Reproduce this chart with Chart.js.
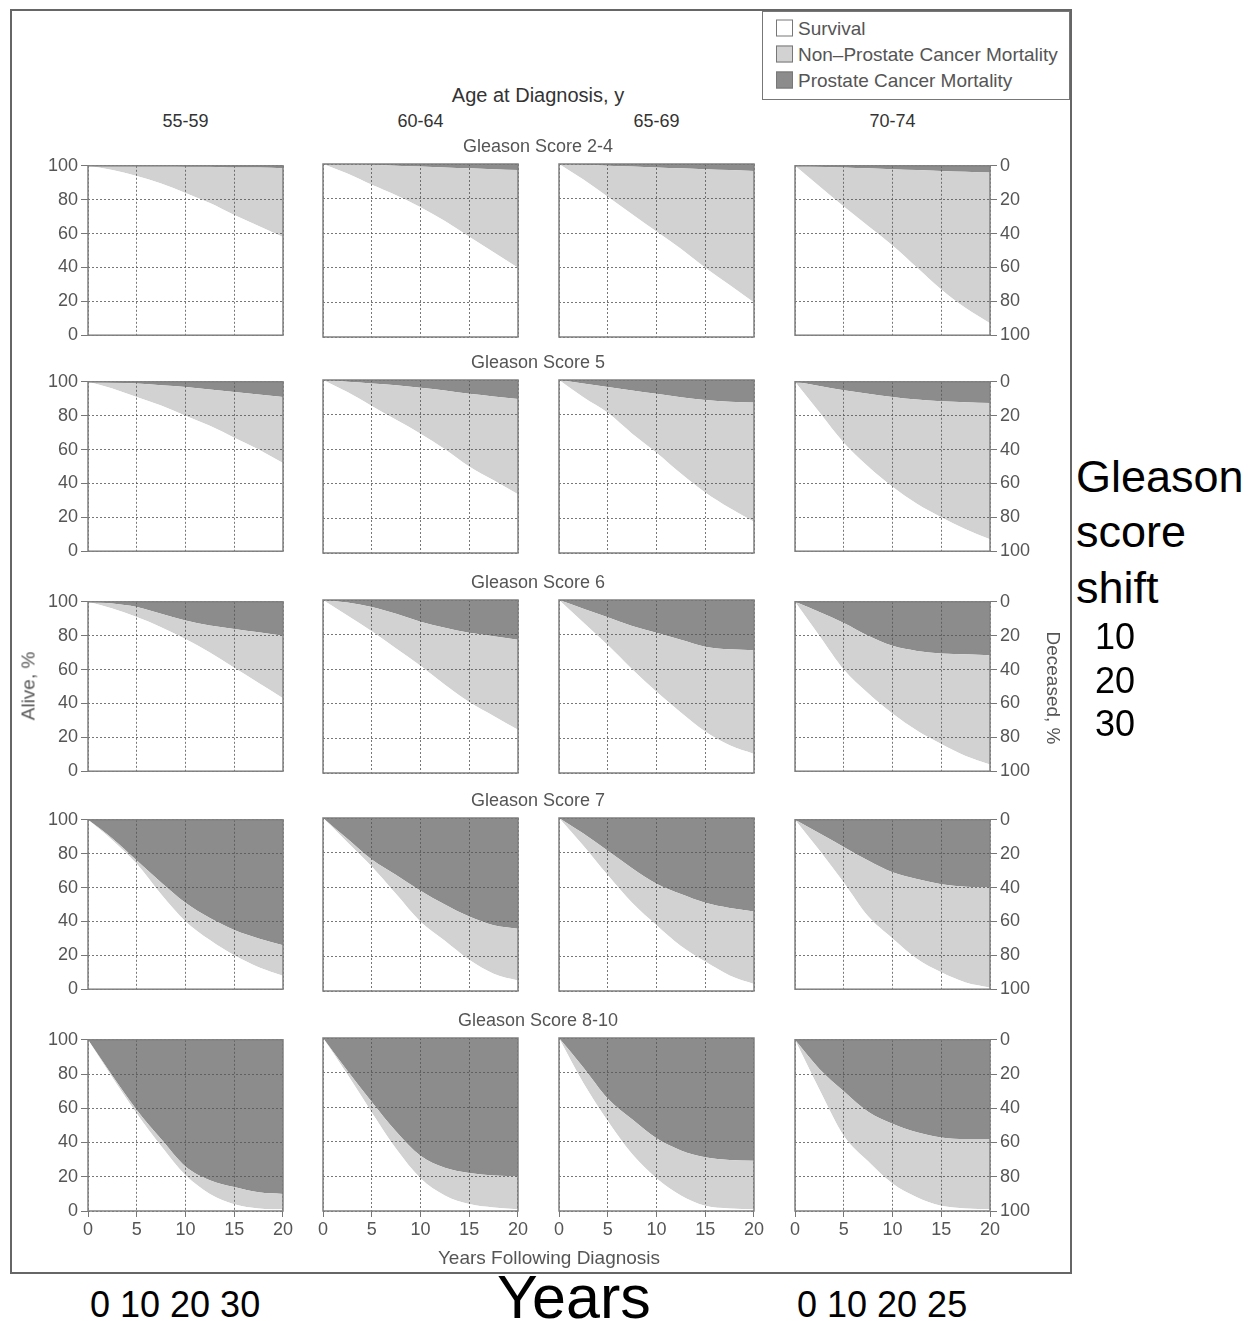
<!DOCTYPE html>
<html lang="en">
<head>
<meta charset="UTF-8">
<title>Survival by Gleason Score and Age at Diagnosis</title>
<script src="https://cdn.jsdelivr.net/npm/chart.js"></script>
<style>
    body {
        margin: 0;
        background: #fff;
        font-family: "Liberation Sans", Arial, Helvetica, sans-serif;
    }
    #page {
        position: relative;
        width: 1256px;
        height: 1321px;
        overflow: hidden;
    }
    #frame {
        position: absolute;
        left: 10px; top: 9px;
        width: 1058px; height: 1261px;
        border: 2px solid #666;
    }
    #legend {
        position: absolute;
        left: 762px; top: 11px;
        width: 306px; height: 87px;
        border: 1px solid #777;
        background: #fff;
    }
    .lbl {
        position: absolute;
        transform: translate(-50%, -50%);
        white-space: nowrap;
        line-height: 1;
        color: #555;
        font-size: 18px;
    }
    .big {
        position: absolute;
        white-space: nowrap;
        line-height: 1;
        color: #000;
        transform: translate(0, -50%);
    }
    .swatch {
        position: absolute;
        width: 15px; height: 15px;
        border: 1px solid #777;
        transform: translate(0, -50%);
    }
    canvas { position: absolute; }
</style>
</head>
<body>
<div id="page">
    <div id="frame"></div>
    <div id="legend"></div>
</div>

<script>
    // ---- data ----
    const years = [0, 2.5, 5, 7.5, 10, 12.5, 15, 17.5, 20];
    const yearTicks = [0, 5, 10, 15, 20];
    const percentTicks = [0, 20, 40, 60, 80, 100];
    const ageGroups = ['55-59', '60-64', '65-69', '70-74'];
    const gleasonGroups = ['Gleason Score 2-4', 'Gleason Score 5', 'Gleason Score 6', 'Gleason Score 7', 'Gleason Score 8-10'];
    const seriesNames = ['Survival', 'Non\u2013Prostate Cancer Mortality', 'Prostate Cancer Mortality'];

    // % alive, one line per age group
    const aliveGS2to4 = [
        [100, 97.5, 94, 89.5, 84, 78, 71, 64.5, 58],
        [100, 94.5, 88, 82, 75, 67, 58, 49, 40],
        [100, 91, 81, 71, 61, 51, 40, 30, 20],
        [100, 88, 76, 64.5, 53, 40, 27, 16, 7]
    ];
    // cumulative % dead of prostate cancer
    const pcaGS2to4 = [
        [0, 0, 0, 0, 0.5, 0.5, 1, 1, 1.5],
        [0, 0, 0.5, 1, 1.5, 2, 2.5, 3, 3.5],
        [0, 0.5, 1, 1.5, 2, 2.5, 3, 3.5, 4],
        [0, 0.5, 1, 1.5, 2, 2.5, 3, 3.5, 4]
    ];

    const aliveGS5 = [
        [100, 96, 91, 86, 80, 74, 67, 60, 52],
        [100, 93, 85, 77, 69, 60, 50, 42, 34],
        [100, 90, 81, 69, 58, 46, 35, 26, 18],
        [100, 82, 64, 50, 38, 28, 20, 13, 7]
    ];
    const pcaGS5 = [
        [0, 0.5, 1, 2, 3, 4.5, 6, 7.5, 9],
        [0, 1, 2, 3, 4.5, 6, 8, 9.5, 11],
        [0, 2, 4, 6, 8, 10, 11.5, 12.5, 13],
        [0, 2.5, 5, 7, 9, 10.5, 11.5, 12, 12.5]
    ];

    const aliveGS6 = [
        [100, 96, 91, 85, 78, 70, 61, 52, 43],
        [100, 91, 82, 72, 62, 51, 41, 33, 25],
        [100, 87, 74, 60, 47, 35, 24, 16, 11],
        [100, 80, 60, 46, 34, 24, 16, 9, 4]
    ];
    const pcaGS6 = [
        [0, 1, 3, 7, 11, 14, 16, 18, 20],
        [0, 1.5, 4, 8, 12.5, 16, 19, 21, 23],
        [0, 5, 10, 15, 19, 23, 27, 28.5, 29],
        [0, 6, 12.5, 20, 26, 29, 30.5, 31, 31.5]
    ];

    const aliveGS7 = [
        [100, 88, 74, 56, 40, 29, 20, 13, 8],
        [100, 86, 72, 56, 40, 29, 18, 10, 6],
        [100, 84, 67, 51, 38, 26, 17, 9, 4],
        [100, 82, 63, 43, 30, 18, 10, 4, 1]
    ];
    const pcaGS7 = [
        [0, 11, 24, 37, 49, 58, 65, 70, 74],
        [0, 12, 24, 33, 42, 50, 57, 62, 64],
        [0, 9, 19, 29, 38, 44, 49, 52, 54],
        [0, 8, 16, 24, 31, 35, 38, 39.5, 40]
    ];

    const aliveGS8to10 = [
        [100, 78, 57, 38, 21, 10, 4, 1.5, 1],
        [100, 79, 57, 36, 19, 9, 4, 2, 1],
        [100, 74, 52, 33, 19, 9, 3, 1.5, 1],
        [100, 71, 44, 29, 16, 8, 3, 1.5, 1]
    ];
    const pcaGS8to10 = [
        [0, 21, 41, 58, 74, 82, 86, 89, 90],
        [0, 19, 37, 54, 68, 75, 78, 79.5, 80],
        [0, 17, 35, 47, 58, 65, 69, 70.5, 71],
        [0, 17, 30, 42, 49, 54, 57, 58, 58]
    ];

    const aliveByScore = [aliveGS2to4, aliveGS5, aliveGS6, aliveGS7, aliveGS8to10];
    const pcaByScore = [pcaGS2to4, pcaGS5, pcaGS6, pcaGS7, pcaGS8to10];

    // ---- layout / style ----
    const fillColors = ['#ffffff', '#d2d2d2', '#8c8c8c'];
    const plotLeft = [88, 323, 559, 795];
    const plotTop = [164, 380, 600, 818, 1038];
    const plotW = 195, plotH = 173;
    const PAD = 12;
    const tickColor = '#555';
    const gridColor = 'rgba(85,85,85,0.8)';

    Chart.defaults.font.family = '"Liberation Sans", Arial, Helvetica, sans-serif';
    Chart.defaults.font.size = 18;
    Chart.defaults.color = tickColor;

    const page = document.getElementById('page');

    const addLabel = (text, x, y, extra) => {
        const d = document.createElement('div');
        d.className = 'lbl';
        d.textContent = text;
        d.style.left = x + 'px';
        d.style.top = y + 'px';
        Object.assign(d.style, extra || {});
        page.appendChild(d);
        return d;
    };

    const addBig = (text, x, y, size) => {
        const d = document.createElement('div');
        d.className = 'big';
        d.textContent = text;
        d.style.left = x + 'px';
        d.style.top = y + 'px';
        d.style.fontSize = size + 'px';
        page.appendChild(d);
    };

    // box around every plot area
    const plotBox = {
        id: 'plotBox',
        afterDraw(chart) {
            const { ctx, chartArea: a } = chart;
            ctx.save();
            ctx.strokeStyle = '#808080';
            ctx.lineWidth = 1.5;
            ctx.strokeRect(a.left, a.top, a.right - a.left, a.bottom - a.top);
            ctx.restore();
        }
    };

    const toPoints = arr => arr.map((v, i) => ({ x: years[i], y: v }));

    const makePanel = (row, col) => {
        const alive = aliveByScore[row][col];
        const pca = pcaByScore[row][col];
        const other = alive.map((a, i) => 100 - a - pca[i]);

        const L = col === 0 ? 50 : 0;
        const R = col === 3 ? 50 : 0;
        const B = row === 4 ? 28 : 0;
        const bottomRow = row === 4;

        const canvas = document.createElement('canvas');
        canvas.width = PAD + L + plotW + R + PAD;
        canvas.height = PAD + plotH + B + PAD;
        canvas.style.left = (plotLeft[col] - PAD - L) + 'px';
        canvas.style.top = (plotTop[row] - PAD) + 'px';
        page.appendChild(canvas);

        const series = [alive, other, pca];
        const scales = {
            x: {
                type: 'linear', min: 0, max: 20,
                afterBuildTicks: s => { s.ticks = yearTicks.map(v => ({ value: v })); },
                ticks: { display: bottomRow, padding: 2, maxRotation: 0, color: tickColor },
                grid: { z: 1, color: gridColor, lineWidth: 1, drawTicks: bottomRow, tickLength: 6, tickColor: '#777', tickBorderDash: [] },
                border: { display: false, dash: [2, 2] },
                afterFit: s => { s.height = B; }
            },
            y: {
                stacked: true, min: 0, max: 100,
                afterBuildTicks: s => { s.ticks = percentTicks.map(v => ({ value: v })); },
                ticks: { display: col === 0, padding: 3, color: tickColor },
                grid: { z: 1, color: gridColor, lineWidth: 1, drawTicks: col === 0, tickLength: 7, tickColor: '#777', tickBorderDash: [] },
                border: { display: false, dash: [2, 2] },
                afterFit: s => { s.width = L; }
            }
        };
        if (col === 3) {
            scales.y2 = {
                position: 'right', min: 0, max: 100,
                afterBuildTicks: s => { s.ticks = percentTicks.map(v => ({ value: v })); },
                ticks: { padding: 3, color: tickColor, callback: v => 100 - v },
                grid: { drawOnChartArea: false, tickLength: 7, tickColor: '#777' },
                border: { display: false },
                afterFit: s => { s.width = R; }
            };
        }

        new Chart(canvas, {
            type: 'line',
            data: {
                datasets: series.map((vals, k) => ({
                    label: seriesNames[k],
                    data: toPoints(vals),
                    fill: k === 0 ? 'origin' : '-1',
                    backgroundColor: fillColors[k],
                    borderWidth: 0,
                    pointRadius: 0,
                    cubicInterpolationMode: 'monotone'
                }))
            },
            options: {
                responsive: false,
                animation: false,
                layout: { padding: PAD },
                plugins: { legend: { display: false }, tooltip: { enabled: false } },
                scales
            },
            plugins: [plotBox]
        });
    };

    for (let r = 0; r < gleasonGroups.length; r++) {
        for (let c = 0; c < ageGroups.length; c++) {
            makePanel(r, c);
        }
    }

    // ---- titles and axis labels ----
    addLabel('Age at Diagnosis, y', 538, 95, { fontSize: '20px', color: '#333' });
    ageGroups.forEach((g, c) => addLabel(g, plotLeft[c] + plotW / 2, 121, { color: '#333' }));
    gleasonGroups.forEach((g, r) => addLabel(g, 538, plotTop[r] - 18, { color: '#555' }));
    addLabel('Years Following Diagnosis', 549, 1257, { fontSize: '19px' });
    addLabel('Alive, %', 28, 686, { fontSize: '19px', transform: 'translate(-50%, -50%) rotate(-90deg)' });
    addLabel('Deceased, %', 1053, 688, { fontSize: '19px', transform: 'translate(-50%, -50%) rotate(90deg)' });

    // ---- legend ----
    const legendY = [28, 54, 80];
    seriesNames.forEach((name, k) => {
        const sw = document.createElement('div');
        sw.className = 'swatch';
        sw.style.left = '776px';
        sw.style.top = legendY[k] + 'px';
        sw.style.background = fillColors[k];
        page.appendChild(sw);
        addLabel(name, 798, legendY[k], { fontSize: '19px', transform: 'translate(0, -50%)' });
    });

    // ---- loose labels outside the figure ----
    addBig('Gleason', 1076, 476, 45);
    addBig('score', 1076, 531, 45);
    addBig('shift', 1076, 587, 45);
    addBig('10', 1095, 637, 36);
    addBig('20', 1095, 681, 36);
    addBig('30', 1095, 724, 36);
    addBig('Years', 497, 1297, 61);
    addBig('0 10 20 30', 90, 1305, 36);
    addBig('0 10 20 25', 797, 1305, 36);
</script>
</body>
</html>
